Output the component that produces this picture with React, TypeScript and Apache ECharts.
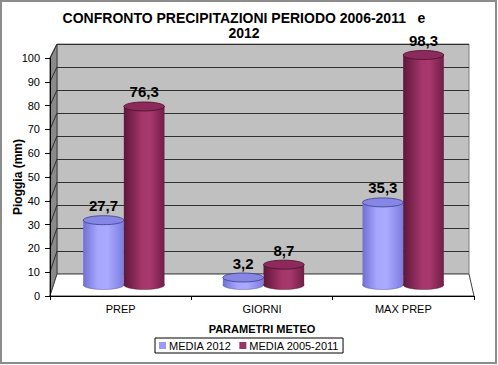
import React, { useEffect, useRef } from 'react';
import * as echarts from 'echarts';

// ---- data ----
const categories = ['PREP', 'GIORNI', 'MAX PREP'];
const media2012 = [27.7, 3.2, 35.3];
const media20052011 = [76.3, 8.7, 98.3];
const seriesNames = ['MEDIA 2012', 'MEDIA 2005-2011'];
const yMin = 0;
const yMax = 100;
const yStep = 10;
const titleLines = ['CONFRONTO PRECIPITAZIONI PERIODO 2006-2011   e', '2012'];
const xAxisTitle = 'PARAMETRI METEO';
const yAxisTitle = 'Pioggia (mm)';

// ---- layout (pixels) ----
const FRONT = { left: 50, top: 58, right: 474, bottom: 296 };
const BACK = { left: 57, top: 44, right: 469, bottom: 274 };
const BARS = { left: 54, top: 51, width: 419, height: 234 };
const BAR_FRAC = 0.291;
const FONT = 'Arial, "Liberation Sans", sans-serif';

const fmt = (v: number) => v.toFixed(1).replace('.', ',');

const palettes = [
  {
    base: '#9999ff',
    stops: [
      { offset: 0, color: '#7070d4' },
      { offset: 0.35, color: '#a6a6ff' },
      { offset: 0.6, color: '#aaaaff' },
      { offset: 1, color: '#7c7ce0' },
    ],
    top: '#8686e4',
    edge: '#3c3c8c',
  },
  {
    base: '#993366',
    stops: [
      { offset: 0, color: '#5e173b' },
      { offset: 0.45, color: '#a4366a' },
      { offset: 0.65, color: '#a8386d' },
      { offset: 1, color: '#701d47' },
    ],
    top: '#8c2b5b',
    edge: '#4a0e2b',
  },
];

const makeRender = (sign: number, pal: any) => (params: any, api: any) => {
  const ci = api.value(0);
  const v = api.value(1);
  const base = api.coord([ci, 0]);
  const top = api.coord([ci, v]);
  const band = api.size([1, 0])[0];
  const w = band * BAR_FRAC;
  const cx = base[0] + (sign * w) / 2;
  const rx = w / 2;
  const ry = 4.5;
  const grad = () => new echarts.graphic.LinearGradient(0, 0, 1, 0, pal.stops);
  return {
    type: 'group',
    children: [
      { type: 'ellipse', shape: { cx, cy: base[1], rx, ry }, style: { fill: grad(), stroke: pal.edge, lineWidth: 0.4 } },
      { type: 'rect', shape: { x: cx - rx, y: top[1], width: w, height: base[1] - top[1] }, style: { fill: grad() } },
      { type: 'ellipse', shape: { cx, cy: top[1], rx, ry }, style: { fill: pal.top, stroke: pal.edge, lineWidth: 0.8 } },
      {
        type: 'text',
        style: {
          text: fmt(v),
          x: cx,
          y: top[1] - 7,
          align: 'center',
          verticalAlign: 'bottom',
          font: `bold 15px ${FONT}`,
          fill: '#000',
        },
      },
    ],
  };
};

export default function App() {
  const ref = useRef<HTMLDivElement>(null);
  useEffect(() => {
    if (!ref.current) return;
    const chart = echarts.init(ref.current, undefined, { renderer: 'svg' });

    const nSteps = (yMax - yMin) / yStep;
    const frontStep = (FRONT.bottom - FRONT.top) / nSteps;
    const backStep = (BACK.bottom - BACK.top) / nSteps;
    const sideLines: any[] = [];
    for (let k = 1; k <= nSteps; k++) {
      sideLines.push({
        type: 'line',
        z: 2,
        shape: { x1: FRONT.left, y1: FRONT.bottom - k * frontStep, x2: BACK.left, y2: BACK.bottom - k * backStep },
        style: { stroke: '#303030', lineWidth: 1 },
      });
    }

    const allSeries = [media2012, media20052011].map((arr, si) => ({
      type: 'custom',
      name: seriesNames[si],
      xAxisIndex: 2,
      yAxisIndex: 2,
      z: 10,
      itemStyle: { color: palettes[si].base },
      encode: { x: 0, y: 1 },
      data: arr.map((v, i) => [i, v]),
      renderItem: makeRender(si === 0 ? -1 : 1, palettes[si]),
    }));

    const gridCommon = { containLabel: false, outerBoundsMode: 'none' };

    chart.setOption({
      animation: false,
      backgroundColor: '#ffffff',
      textStyle: { fontFamily: FONT },
      grid: [
        {
          ...gridCommon,
          left: BACK.left,
          top: BACK.top,
          width: BACK.right - BACK.left,
          height: BACK.bottom - BACK.top,
          show: true,
          backgroundColor: '#c0c0c0',
          borderColor: '#808080',
          borderWidth: 1,
        },
        {
          ...gridCommon,
          left: FRONT.left,
          top: FRONT.top,
          width: FRONT.right - FRONT.left,
          height: FRONT.bottom - FRONT.top,
        },
        { ...gridCommon, left: BARS.left, top: BARS.top, width: BARS.width, height: BARS.height },
      ],
      xAxis: [
        { gridIndex: 0, type: 'category', data: categories, show: false },
        {
          gridIndex: 1,
          type: 'category',
          data: categories,
          z: 3,
          axisLine: { show: true, lineStyle: { color: '#000', width: 1 } },
          axisTick: { show: true, length: 4, lineStyle: { color: '#000' } },
          axisLabel: { fontSize: 11, color: '#000', margin: 7, fontFamily: FONT },
          name: xAxisTitle,
          nameLocation: 'middle',
          nameGap: 27,
          nameTextStyle: { fontSize: 11, fontWeight: 'bold', color: '#000', fontFamily: FONT },
        },
        { gridIndex: 2, type: 'category', data: categories, show: false },
      ],
      yAxis: [
        {
          gridIndex: 0,
          type: 'value',
          min: yMin,
          max: yMax,
          interval: yStep,
          axisLabel: { show: false },
          axisLine: { show: false },
          axisTick: { show: false },
          splitLine: { show: true, lineStyle: { color: '#303030', width: 1 } },
        },
        {
          gridIndex: 1,
          type: 'value',
          min: yMin,
          max: yMax,
          interval: yStep,
          z: 3,
          axisLine: { show: true, lineStyle: { color: '#000', width: 1 } },
          axisTick: { show: true, length: 5, lineStyle: { color: '#000' } },
          axisLabel: { fontSize: 11, color: '#000', margin: 10, fontFamily: FONT },
          splitLine: { show: false },
        },
        { gridIndex: 2, type: 'value', min: yMin, max: yMax, show: false },
      ],
      legend: {
        left: 155,
        top: 338,
        data: seriesNames,
        icon: 'rect',
        itemWidth: 7,
        itemHeight: 7,
        itemGap: 8,
        padding: [2, 4],
        borderColor: '#000',
        borderWidth: 1,
        selectedMode: false,
        textStyle: { fontSize: 11, color: '#000', fontFamily: FONT, padding: [0, 0, 0, -2] },
      },
      graphic: [
        {
          type: 'polygon',
          z: 1,
          shape: { points: [[FRONT.left, FRONT.top], [BACK.left, BACK.top], [BACK.left, BACK.bottom], [FRONT.left, FRONT.bottom]] },
          style: { fill: '#8a8a8a', stroke: '#404040', lineWidth: 1 },
        },
        {
          type: 'polygon',
          z: 1,
          shape: { points: [[FRONT.left, FRONT.bottom], [BACK.left, BACK.bottom], [BACK.right, BACK.bottom], [FRONT.right, FRONT.bottom]] },
          style: { fill: '#ffffff', stroke: '#404040', lineWidth: 1 },
        },
        ...sideLines,
        {
          type: 'text',
          z: 5,
          x: 18,
          y: (FRONT.top + FRONT.bottom) / 2,
          rotation: Math.PI / 2,
          style: {
            text: yAxisTitle,
            align: 'center',
            verticalAlign: 'middle',
            font: `bold 12px ${FONT}`,
            fill: '#000',
          },
        },
        {
          type: 'text',
          z: 5,
          x: 244,
          y: 10,
          style: {
            text: titleLines.join('\n'),
            align: 'center',
            verticalAlign: 'top',
            font: `bold 14px ${FONT}`,
            lineHeight: 15,
            fill: '#000',
          },
        },
        {
          type: 'rect',
          z: 20,
          shape: { x: 1, y: 1, width: 495, height: 362 },
          style: { fill: 'none', stroke: '#8c8c8c', lineWidth: 2 },
        },
      ],
      series: allSeries,
    });
    return () => chart.dispose();
  }, []);
  return (
    <div
      ref={ref}
      style={{ position: 'absolute', left: 0, top: 0, width: 498, height: 365, background: '#fff' }}
    />
  );
}
